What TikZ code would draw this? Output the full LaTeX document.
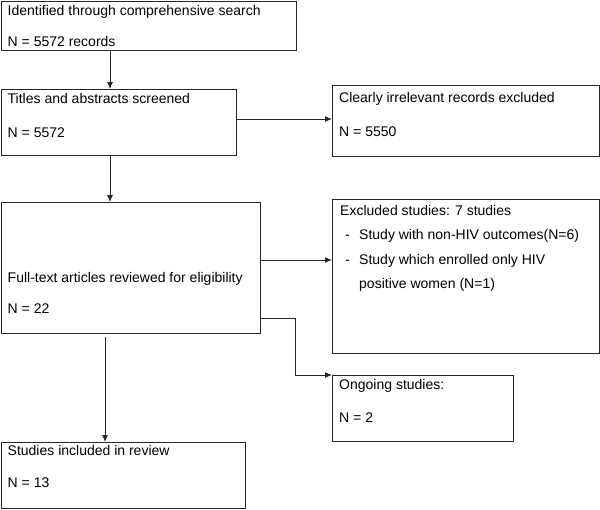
\documentclass[tikz,border=0pt]{standalone}
\usepackage{fontspec}
\setmainfont{Liberation Sans}
\usetikzlibrary{arrows.meta}

\tikzset{
  box/.style={draw=black!85, line width=1pt, rectangle, anchor=north west, inner sep=0pt},
  txt/.style={anchor=north west, inner sep=0pt, align=left, font=\fontsize{14}{#1}\selectfont},
  arr/.style={draw=black!85, line width=1pt, -{Latex[length=7pt,width=6pt]}},
}

\begin{document}
\begin{tikzpicture}[x=1pt,y=-1pt]
\useasboundingbox (0,0) rectangle (600,509);
% boxes
\node[box, minimum width=295.5pt, minimum height=49.5pt] (search) at (0.5,0.5) {};
\node[box, minimum width=235.5pt, minimum height=66pt] (screen) at (0.5,89) {};
\node[box, minimum width=267pt, minimum height=71pt] (irrelevant) at (332,85) {};
\node[box, minimum width=259.5pt, minimum height=131pt] (fulltext) at (0.5,202) {};
\node[box, minimum width=267pt, minimum height=154pt] (excluded) at (332,199) {};
\node[box, minimum width=181pt, minimum height=66pt] (ongoing) at (332,375) {};
\node[box, minimum width=244.5pt, minimum height=66pt] (included) at (0.5,442) {};
% texts
\node[txt=31] (searchtxt) at ([shift={(7,4.5)}]search.north west)
  {Identified through comprehensive search\\N = 5572 records};
\node[txt=34] (screentxt) at ([shift={(7,4)}]screen.north west)
  {Titles and abstracts screened\\N = 5572};
\node[txt=34] (irrelevanttxt) at ([shift={(7,7)}]irrelevant.north west)
  {Clearly irrelevant records excluded\\N = 5550};
\node[txt=31] (fulltexttxt) at ([shift={(7,70)}]fulltext.north west)
  {Full-text articles reviewed for eligibility\\N = 22};
\node[txt=24.5] (excludedtxt) at ([shift={(8,6)}]excluded.north west)
  {Excluded studies: 7 studies\\
   \hspace*{5pt}\makebox[14pt][l]{-}Study with non-HIV outcomes(N=6)\\
   \hspace*{5pt}\makebox[14pt][l]{-}Study which enrolled only HIV\\
   \hspace*{19pt}positive women (N=1)};
\node[txt=33] (ongoingtxt) at ([shift={(7,4)}]ongoing.north west)
  {Ongoing studies:\\N = 2};
\node[txt=32] (includedtxt) at ([shift={(7,3)}]included.north west)
  {Studies included in review\\N = 13};
% connectors
\coordinate (c1) at (110,0);
\coordinate (c2) at (105,0);
\coordinate (r1) at (0,119);
\coordinate (r2) at (0,260);
\coordinate (r3) at (0,318);
\coordinate (k) at (295,0);
\draw[arr] (search.south -| c1) -- (screen.north -| c1);
\draw[arr] (screen.east |- r1) -- (irrelevant.west |- r1);
\draw[arr] (screen.south -| c1) -- (fulltext.north -| c1);
\draw[arr] (fulltext.east |- r2) -- (excluded.west |- r2);
\draw[arr] (fulltext.east |- r3) -| (k |- ongoing.north) -- (ongoing.north west);
\draw[arr, shorten <=3pt] (fulltext.south -| c2) -- (included.north -| c2);
\end{tikzpicture}
\end{document}
